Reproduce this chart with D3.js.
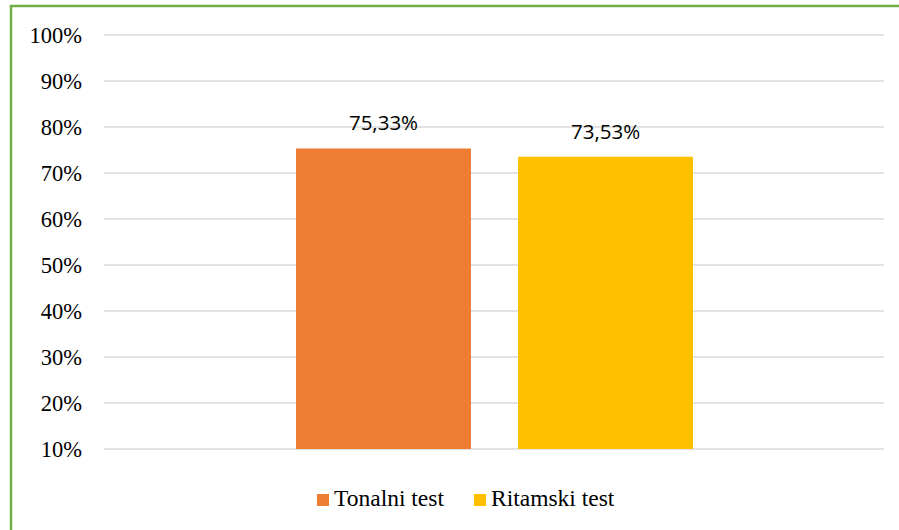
<!DOCTYPE html>
<html><head><meta charset="utf-8">
<script src="https://cdn.jsdelivr.net/npm/d3@7"></script>
<style>body{margin:0;background:#fff}svg{display:block}</style>
</head><body>
<svg id="c" width="899" height="530"></svg>
<script>
const series = ["Tonalni test", "Ritamski test"];
const values = [75.33, 73.53];
const labels = ["75,33%", "73,53%"];
const colors = ["#ED7D31", "#FFC000"];
const ticks = [10, 20, 30, 40, 50, 60, 70, 80, 90, 100];

(function () {
const svg = d3.select("#c");
// border
svg.append("rect").attr("x", 11).attr("y", 6).attr("width", 1000).attr("height", 600)
  .attr("fill", "none").attr("stroke", "#70AD47").attr("stroke-width", 2.5);

const pLeft = 104, pRight = 884, pTop = 35, pBottom = 449;
const y = d3.scaleLinear().domain([10, 100]).range([pBottom, pTop]);
const x = d3.scaleBand().domain(series).range([296, 693]).paddingInner(0.212);

// grid
svg.append("g").selectAll("line").data(ticks).join("line")
  .attr("x1", pLeft).attr("x2", pRight)
  .attr("y1", d => y(d)).attr("y2", d => y(d))
  .attr("stroke", "#D9D9D9").attr("stroke-width", 1.3);

// tick labels
svg.append("g").selectAll("text").data(ticks).join("text")
  .attr("x", 82).attr("y", d => y(d) + 8)
  .attr("text-anchor", "end")
  .attr("font-family", "'Liberation Serif', 'Times New Roman', serif")
  .attr("font-size", 22.5).attr("fill", "#000")
  .text(d => d + "%");

// bars
svg.append("g").selectAll("rect").data(series).join("rect")
  .attr("x", d => x(d)).attr("width", x.bandwidth())
  .attr("y", (d, i) => y(values[i])).attr("height", (d, i) => pBottom - y(values[i]))
  .attr("fill", (d, i) => colors[i]);

// value labels
svg.append("g").selectAll("text").data(series).join("text")
  .attr("x", d => x(d) + x.bandwidth() / 2)
  .attr("y", (d, i) => y(values[i]) - 18)
  .attr("text-anchor", "middle")
  .attr("font-family", "'Open Sans', 'Liberation Sans', sans-serif")
  .attr("font-size", 20.5).attr("fill", "#000")
  .text((d, i) => labels[i]);

// legend
const lx = [317, 474];
const lg = svg.append("g").selectAll("g").data(series).join("g")
  .attr("transform", (d, i) => `translate(${lx[i]},506)`);
lg.append("rect").attr("x", 0).attr("y", -12).attr("width", 12).attr("height", 12)
  .attr("fill", (d, i) => colors[i]);
lg.append("text").attr("x", 17).attr("y", 0)
  .attr("font-family", "'Liberation Serif', 'Times New Roman', serif")
  .attr("font-size", 23.5).attr("fill", "#000")
  .text(d => d);
})();
</script>
</body></html>
